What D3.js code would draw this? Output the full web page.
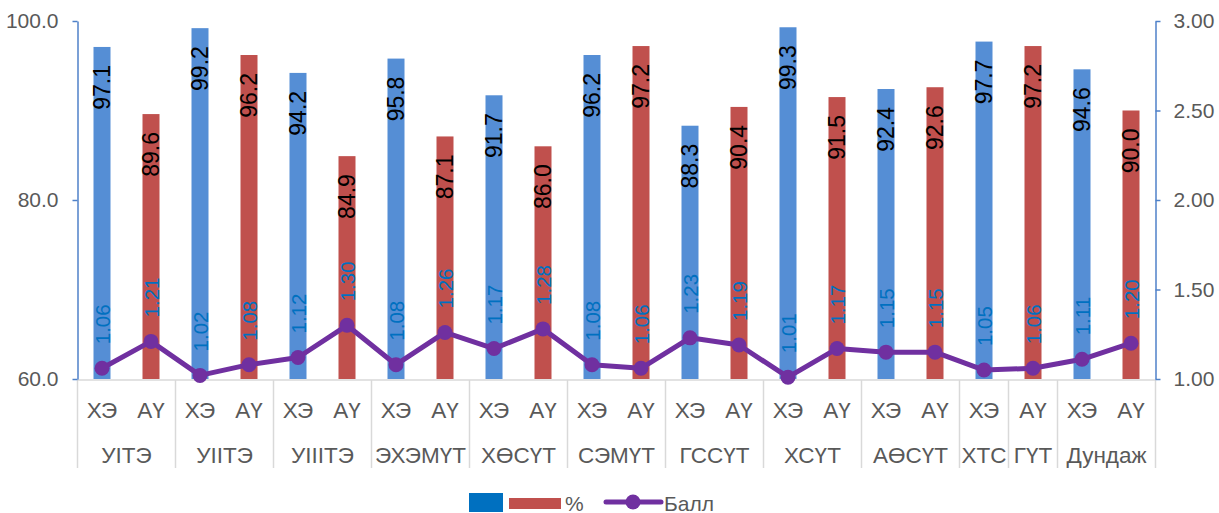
<!DOCTYPE html>
<html>
<head>
<meta charset="utf-8">
<script src="https://cdn.jsdelivr.net/npm/d3@7"></script>
<style>
  html, body { margin: 0; padding: 0; background: #fff; }
  svg { display: block; }
  text { font-family: "Liberation Sans", Arial, sans-serif; }
</style>
</head>
<body>
<svg id="chart" width="1219" height="513"></svg>
<script>
// Outer category groups and how many sub-columns each one holds
const groupNames = ["УIТЭ", "УIIТЭ", "УIIIТЭ", "ЭХЭМҮТ", "ХӨСҮТ", "СЭМҮТ", "ГССҮТ", "ХСҮТ", "АӨСҮТ", "ХТС", "ГҮТ", "Дундаж"];
const groupSizes = [2, 2, 2, 2, 2, 2, 2, 2, 2, 1, 1, 2];

// Inner category of each column (ХЭ / АҮ)
const subLabels = ["ХЭ", "АҮ", "ХЭ", "АҮ", "ХЭ", "АҮ", "ХЭ", "АҮ", "ХЭ", "АҮ", "ХЭ", "АҮ",
                   "ХЭ", "АҮ", "ХЭ", "АҮ", "ХЭ", "АҮ", "ХЭ", "АҮ", "ХЭ", "АҮ"];

// Percentage (bars, left axis)
const percentValues = [97.1, 89.6, 99.2, 96.2, 94.2, 84.9, 95.8, 87.1, 91.7, 86.0, 96.2, 97.2,
                       88.3, 90.4, 99.3, 91.5, 92.4, 92.6, 97.7, 97.2, 94.6, 90.0];

// Score (line, right axis)
const scoreValues = [1.06, 1.21, 1.02, 1.08, 1.12, 1.30, 1.08, 1.26, 1.17, 1.28, 1.08, 1.06,
                     1.23, 1.19, 1.01, 1.17, 1.15, 1.15, 1.05, 1.06, 1.11, 1.20];

const leftTicks = [60, 80, 100];
const rightTicks = [1.00, 1.50, 2.00, 2.50, 3.00];

const legendBarLabel = "%";
const legendLineLabel = "Балл";

const COLORS = {
  "ХЭ": "#558ED5",
  "АҮ": "#C0504D",
  line: "#7030A0",
  scoreText: "#0070C0",
  axisLine: "#4F81C8",
  grid: "#D9D9D9",
  text: "#595959",
  legendBlue: "#0070C0"
};

const svg = d3.select("#chart");
const plot = { left: 77.5, right: 1155.5, top: 21, bottom: 379 };

const x = d3.scaleBand()
  .domain(d3.range(percentValues.length))
  .range([plot.left, plot.right])
  .padding(0);

const yLeft = d3.scaleLinear().domain([60, 100]).range([plot.bottom, plot.top]);
const yRight = d3.scaleLinear().domain([1, 3]).range([plot.bottom, plot.top]);

const barWidth = 17;
const cx = i => x(i) + x.bandwidth() / 2;

// Bars
svg.append("g")
  .selectAll("rect")
  .data(percentValues)
  .join("rect")
  .attr("x", (d, i) => cx(i) - barWidth / 2)
  .attr("y", d => yLeft(d))
  .attr("width", barWidth)
  .attr("height", d => yLeft(60) - yLeft(d))
  .attr("fill", (d, i) => COLORS[subLabels[i]]);

// Value labels inside the top of each bar
svg.append("g")
  .selectAll("text")
  .data(percentValues)
  .join("text")
  .attr("transform", (d, i) => `translate(${cx(i)},${yLeft(d) + 18}) rotate(-90)`)
  .attr("text-anchor", "end")
  .attr("dominant-baseline", "central")
  .attr("font-size", 23)
  .attr("fill", "#000")
  .text(d => d.toFixed(1));

// Category axis baseline
svg.append("line")
  .attr("x1", plot.left).attr("x2", plot.right)
  .attr("y1", plot.bottom + 1).attr("y2", plot.bottom + 1)
  .attr("stroke", COLORS.grid).attr("stroke-width", 1.5);

// Group dividers and labels
const boundaries = [0];
groupSizes.forEach(s => boundaries.push(boundaries[boundaries.length - 1] + s));
const divX = k => (k < percentValues.length ? x(k) : plot.right);

svg.append("g")
  .selectAll("line")
  .data(boundaries)
  .join("line")
  .attr("x1", d => divX(d)).attr("x2", d => divX(d))
  .attr("y1", plot.bottom + 1).attr("y2", 468)
  .attr("stroke", COLORS.grid).attr("stroke-width", 1.5);

svg.append("g")
  .selectAll("text")
  .data(subLabels)
  .join("text")
  .attr("x", (d, i) => cx(i))
  .attr("y", 418)
  .attr("text-anchor", "middle")
  .attr("font-size", 22.5)
  .attr("fill", COLORS.text)
  .text(d => d);

svg.append("g")
  .selectAll("text")
  .data(groupNames)
  .join("text")
  .attr("x", (d, i) => (divX(boundaries[i]) + divX(boundaries[i + 1])) / 2)
  .attr("y", 463)
  .attr("text-anchor", "middle")
  .attr("font-size", 22.5)
  .attr("fill", COLORS.text)
  .text(d => d);

// Left axis
const leftAxis = svg.append("g")
  .attr("transform", `translate(${plot.left},0)`)
  .call(d3.axisLeft(yLeft).tickValues(leftTicks).tickFormat(d3.format(".1f"))
    .tickSize(5).tickSizeOuter(0).tickPadding(14));

// Right axis
const rightAxis = svg.append("g")
  .attr("transform", `translate(${plot.right},0)`)
  .call(d3.axisRight(yRight).tickValues(rightTicks).tickFormat(d3.format(".2f"))
    .tickSize(5).tickSizeOuter(0).tickPadding(13));

[leftAxis, rightAxis].forEach(g => {
  g.select(".domain").attr("stroke", COLORS.axisLine).attr("stroke-width", 1.5);
  g.selectAll(".tick line").attr("stroke", COLORS.axisLine).attr("stroke-width", 1.5);
  g.selectAll(".tick text")
    .attr("font-size", 21)
    .attr("font-family", "'Liberation Sans', Arial, sans-serif")
    .attr("fill", COLORS.text);
});

// Score line
const line = d3.line()
  .x((d, i) => cx(i))
  .y(d => yRight(d));

svg.append("path")
  .datum(scoreValues)
  .attr("d", line)
  .attr("fill", "none")
  .attr("stroke", COLORS.line)
  .attr("stroke-width", 5)
  .attr("stroke-linejoin", "round");

svg.append("g")
  .selectAll("circle")
  .data(scoreValues)
  .join("circle")
  .attr("cx", (d, i) => cx(i))
  .attr("cy", d => yRight(d))
  .attr("r", 7.5)
  .attr("fill", COLORS.line);

// Score labels above each point
svg.append("g")
  .selectAll("text")
  .data(scoreValues)
  .join("text")
  .attr("transform", (d, i) => `translate(${cx(i)},${yRight(d) - 24}) rotate(-90)`)
  .attr("text-anchor", "start")
  .attr("dominant-baseline", "central")
  .attr("font-size", 20.5)
  .attr("fill", COLORS.scoreText)
  .text(d => d.toFixed(2));

// Legend
const legend = svg.append("g");
legend.append("rect").attr("x", 469).attr("y", 493).attr("width", 34).attr("height", 19)
  .attr("fill", COLORS.legendBlue);
legend.append("rect").attr("x", 509).attr("y", 498).attr("width", 52).attr("height", 11)
  .attr("fill", COLORS["АҮ"]);
legend.append("text").attr("x", 565).attr("y", 503).attr("dominant-baseline", "central")
  .attr("font-size", 21).attr("fill", COLORS.text).text(legendBarLabel);
legend.append("line").attr("x1", 606).attr("x2", 661).attr("y1", 502).attr("y2", 502)
  .attr("stroke", COLORS.line).attr("stroke-width", 5).attr("stroke-linecap", "round");
legend.append("circle").attr("cx", 633).attr("cy", 502).attr("r", 7.5).attr("fill", COLORS.line);
legend.append("text").attr("x", 664).attr("y", 503).attr("dominant-baseline", "central")
  .attr("font-size", 21).attr("fill", COLORS.text).text(legendLineLabel);
</script>
</body>
</html>
